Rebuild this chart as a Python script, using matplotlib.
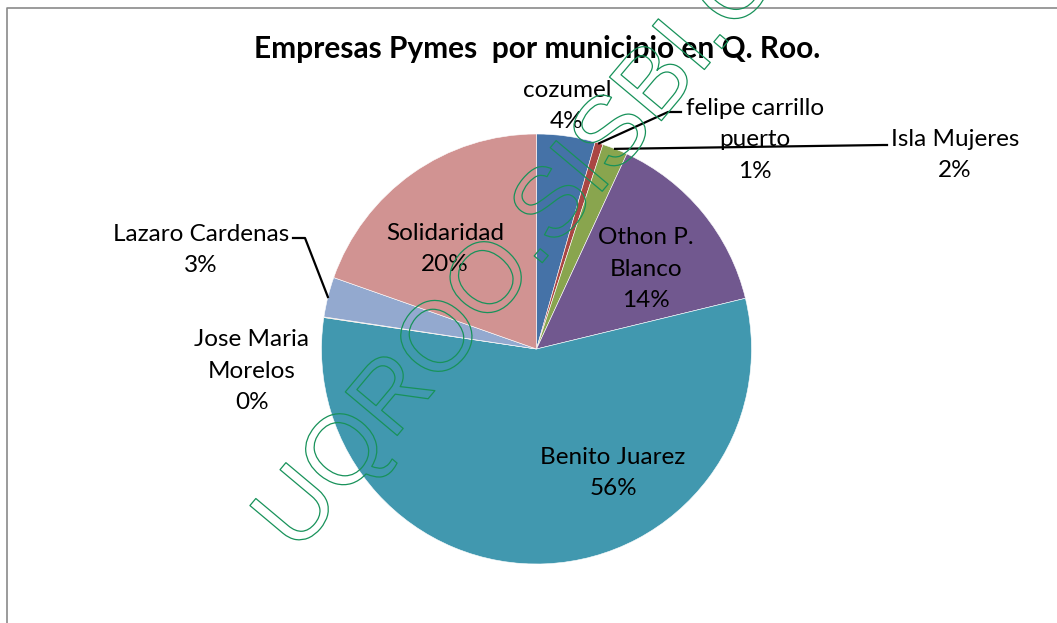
import numpy as np
import matplotlib.pyplot as plt
from matplotlib import patheffects

W, H = 1057, 623

# share of companies per municipality (percent)
municipios = ['cozumel', 'felipe carrillo\npuerto', 'Isla Mujeres', 'Othon P.\nBlanco',
              'Benito Juarez', 'Jose Maria\nMorelos', 'Lazaro Cardenas', 'Solidaridad']
valores = [4.4, 0.6, 1.9, 14.3, 56.1, 0.05, 3.0, 19.6]
colores = ['#4572A7', '#AA4643', '#89A54E', '#71588F',
           '#4198AF', '#DB843D', '#93A9CF', '#D19392']

# label centres in pixels (x, y)
label_pos = [(567, 106), (755, 140), (955, 155), (646, 269),
             (613, 473), (252, 371), (201, 250), (445, 249)]
# leader lines: bend point and end point
leaders = {1: [(668, 112), (681, 112)],
           2: [(883, 145), (887, 145)],
           6: [(305, 238), (293, 238)]}

plt.rcParams['font.family'] = ['Lato', 'DejaVu Sans']

fig = plt.figure(figsize=(W / 100, H / 100), dpi=100)
ax = fig.add_axes([0, 0, 1, 1])

cx, cy, r = 536.5, 349, 215
# y axis is inverted below, so start at 270 and go counterclockwise = clockwise on screen
wedges, _ = ax.pie(valores, colors=colores, startangle=270, counterclock=True,
                   center=(cx, cy), radius=r,
                   wedgeprops=dict(edgecolor='white', linewidth=0.4))

ax.set_xlim(0, W)
ax.set_ylim(H, 0)
ax.set_aspect('equal')
ax.axis('off')

total = sum(valores)
for i, (name, v) in enumerate(zip(municipios, valores)):
    x, y = label_pos[i]
    ax.text(x, y, f'{name}\n{v / total * 100:.0f}%', ha='center', va='center',
            fontsize=17.5, linespacing=1.62, color='black', zorder=5)

for i, pts in leaders.items():
    w = wedges[i]
    mid = np.deg2rad((w.theta1 + w.theta2) / 2)
    sx, sy = cx + r * np.cos(mid), cy + r * np.sin(mid)
    xs = [sx] + [p[0] for p in pts]
    ys = [sy] + [p[1] for p in pts]
    ax.plot(xs, ys, color='black', linewidth=1.6, zorder=4)

ax.text(537, 49, 'Empresas Pymes  por municipio en Q. Roo.', ha='center', va='center',
        fontsize=21.5, fontweight='bold', color='black')

# chart frame
ax.plot([7, 7, W + 5], [H + 5, 8, 8], color='#8a8a8a', linewidth=1.2, clip_on=False)

# watermark
ax.text(297, 555, 'UQROO.SISBI.C', ha='left', va='baseline', rotation=50,
        rotation_mode='anchor', fontsize=71, family='Liberation Sans', color='none',
        path_effects=[patheffects.Stroke(linewidth=0.9, foreground='#18925a')], zorder=10)

plt.savefig('out.png', dpi=100)
